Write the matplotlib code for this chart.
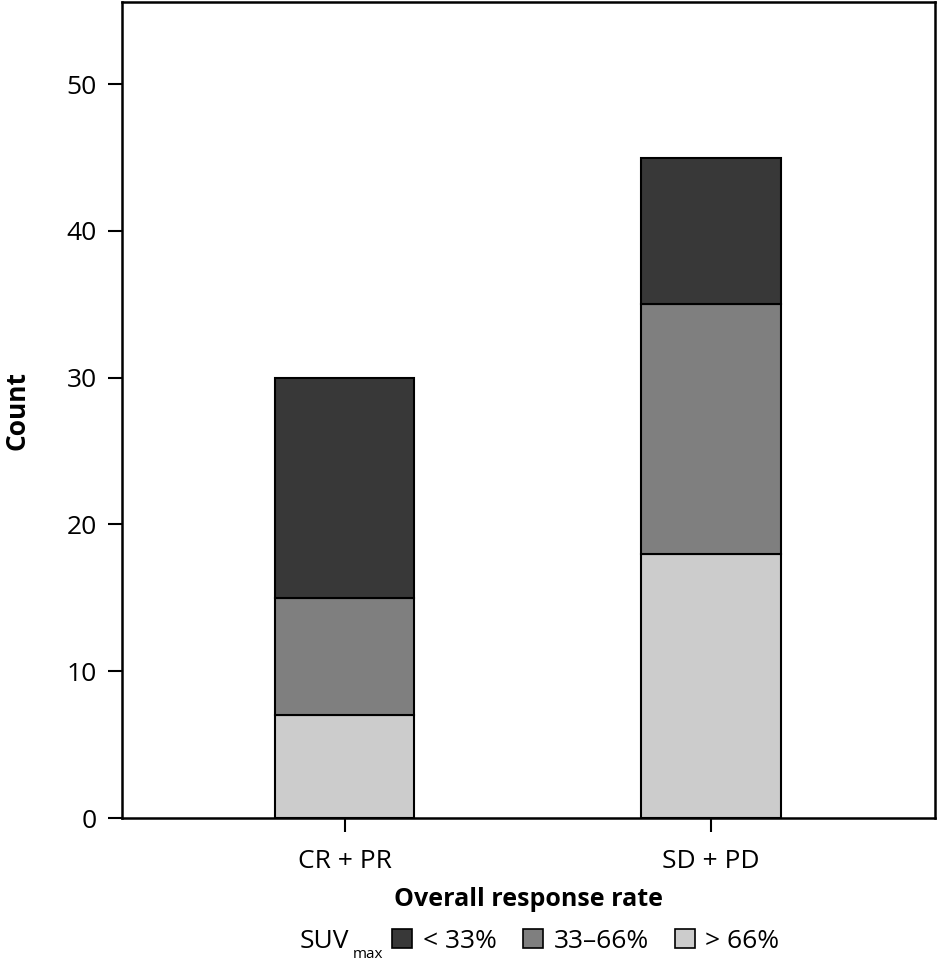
import numpy as np
import matplotlib
matplotlib.use("Agg")
import matplotlib.pyplot as plt
from matplotlib.patches import Patch

plt.rcParams['font.family'] = ['Open Sans', 'DejaVu Sans']

# data
groups = ["CR + PR", "SD + PD"]
low = [15, 10]      # < 33%
mid = [8, 17]       # 33-66%
high = [7, 18]      # > 66%
series_labels = ["< 33%", "33\u201366%", "> 66%"]
colors = ["#383838", "#7f7f7f", "#cccccc"]

fig = plt.figure(figsize=(9.38, 9.6), dpi=100)
ax = fig.add_axes([122/938, 1 - 818/960, (935-122)/938, (818-2)/960])

x = np.arange(len(groups))
w = 0.38
high = np.array(high); mid = np.array(mid); low = np.array(low)
ax.bar(x, high, w, color=colors[2], edgecolor="black", linewidth=1.5)
ax.bar(x, mid, w, bottom=high, color=colors[1], edgecolor="black", linewidth=1.5)
ax.bar(x, low, w, bottom=high + mid, color=colors[0], edgecolor="black", linewidth=1.5)

ax.set_xlim(-0.609, 1.612)
ax.set_ylim(0, 55.6)
ax.set_yticks([0, 10, 20, 30, 40, 50])
ax.set_xticks(x)
ax.set_xticklabels(groups)
ax.tick_params(axis="both", direction="out", length=10, width=1.5, labelsize=19)
ax.tick_params(axis="x", pad=12)
ax.tick_params(axis="y", pad=8)
for s in ax.spines.values():
    s.set_linewidth(1.8)

ax.set_ylabel("Count", fontsize=19, fontweight="bold", labelpad=26)
ax.set_xlabel("Overall response rate", fontsize=18, fontweight="bold", labelpad=10)

handles = [Patch(facecolor=c, edgecolor="black", linewidth=1.2) for c in colors]
fig.legend(handles, series_labels, loc="center", bbox_to_anchor=(586/938, 1 - 941/960),
           ncol=3, frameon=False, fontsize=19, handlelength=0.75, handleheight=0.75,
           handletextpad=0.4, columnspacing=1.0, borderpad=0, borderaxespad=0)
fig.text(300/938, 1 - 941/960, "SUV", fontsize=19, ha="left", va="center")
fig.text(353/938, 1 - 954/960, "max", fontsize=11, ha="left", va="center")

fig.savefig("out.png", dpi=100)
